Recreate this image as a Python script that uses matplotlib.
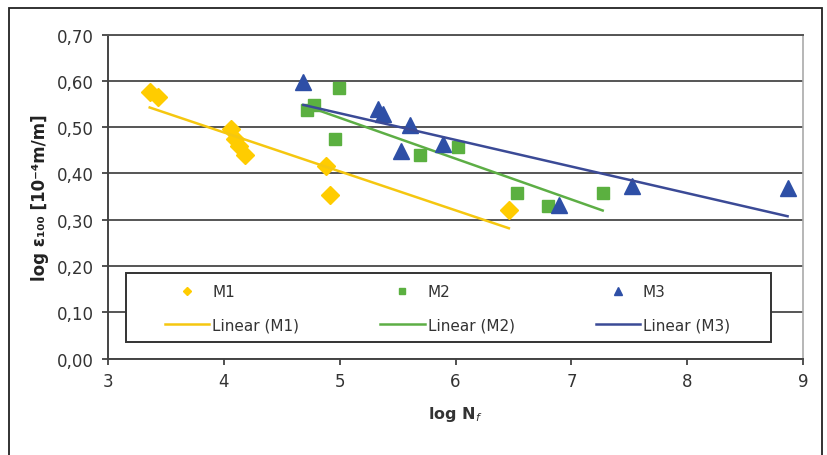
import numpy as np
import matplotlib.pyplot as plt
from matplotlib import ticker
from matplotlib.patches import Rectangle

# data
m1_x = [3.36, 3.43, 4.06, 4.10, 4.13, 4.18, 4.88, 4.92, 6.46]
m1_y = [0.575, 0.565, 0.495, 0.475, 0.46, 0.44, 0.416, 0.353, 0.321]
m2_x = [4.72, 4.78, 4.99, 4.96, 5.69, 6.02, 6.53, 6.80, 7.27]
m2_y = [0.538, 0.548, 0.584, 0.474, 0.44, 0.456, 0.357, 0.33, 0.357]
m3_x = [4.686, 5.334, 5.377, 5.528, 5.608, 5.89, 6.889, 7.52, 8.866]
m3_y = [0.598, 0.539, 0.528, 0.449, 0.504, 0.463, 0.332, 0.372, 0.368]

series = [
    ('M1', m1_x, m1_y, 'D', 9, '#FFCC00', '#F5C710'),
    ('M2', m2_x, m2_y, 's', 9, '#5BB040', '#5DAE45'),
    ('M3', m3_x, m3_y, '^', 11, '#2E4FA6', '#3B4A96'),
]

plt.rcParams['font.family'] = ['DejaVu Sans']

fig = plt.figure(figsize=(8.27, 4.56), dpi=100)
ax = fig.add_axes([0.1306, 0.2116, 0.8405, 0.7105])

# outer frame of the whole chart
fig.patches.append(Rectangle((0.011, -0.05), 0.983, 1.03, transform=fig.transFigure,
                             fill=False, edgecolor='#222222', linewidth=1.3))

ax.yaxis.grid(True, color='#555555', linewidth=1.4)
ax.set_axisbelow(True)

handles = []
for name, xs, ys, mk, ms, c, lc in series:
    h1, = ax.plot(xs, ys, linestyle='none', marker=mk, markersize=ms, color=c, label=name)
    # excel-style linear trendline
    k, b = np.polyfit(xs, ys, 1)
    xx = np.array([min(xs), max(xs)])
    h2, = ax.plot(xx, k * xx + b, color=lc, linewidth=1.8, label=f'Linear ({name})')
    handles += [h1, h2]

ax.set_xlim(3, 9)
ax.set_ylim(0, 0.70)
ax.xaxis.set_major_locator(ticker.MultipleLocator(1))
ax.yaxis.set_major_locator(ticker.MultipleLocator(0.1))
ax.yaxis.set_major_formatter(ticker.FuncFormatter(lambda v, p: f'{v:.2f}'.replace('.', ',')))
ax.tick_params(labelsize=12, colors='#333333', length=4, width=1.2, pad=6)

for s in ['left', 'bottom']:
    ax.spines[s].set_color('#444444')
    ax.spines[s].set_linewidth(1.4)
ax.spines['right'].set_color('#aaaaaa')
ax.spines['right'].set_linewidth(1.2)
ax.spines['top'].set_color('#555555')
ax.spines['top'].set_linewidth(1.4)

ax.set_xlabel('log N$_f$', fontsize=11.5, fontweight='bold', color='#333333', labelpad=10)
ax.set_ylabel('log ε₁₀₀ [10⁻⁴m/m]', fontsize=12, fontweight='bold', color='#222222', labelpad=6)

# legend box drawn separately so the padding can differ from the entry layout
ax.add_patch(Rectangle((0.026, 0.05), 0.928, 0.214, transform=ax.transAxes, facecolor='white',
                       edgecolor='#333333', linewidth=1.4, zorder=1))
leg = ax.legend(handles=handles, ncol=3, loc='lower left', bbox_to_anchor=(0.082, 0.08, 0.813, 0.15),
                mode='expand', fontsize=11, markerscale=0.5, handlelength=2.9, labelspacing=1.2,
                handletextpad=0.2, borderaxespad=0, borderpad=0, frameon=False)
for t in leg.get_texts():
    t.set_color('#333333')

fig.savefig('out.png', dpi=100)
